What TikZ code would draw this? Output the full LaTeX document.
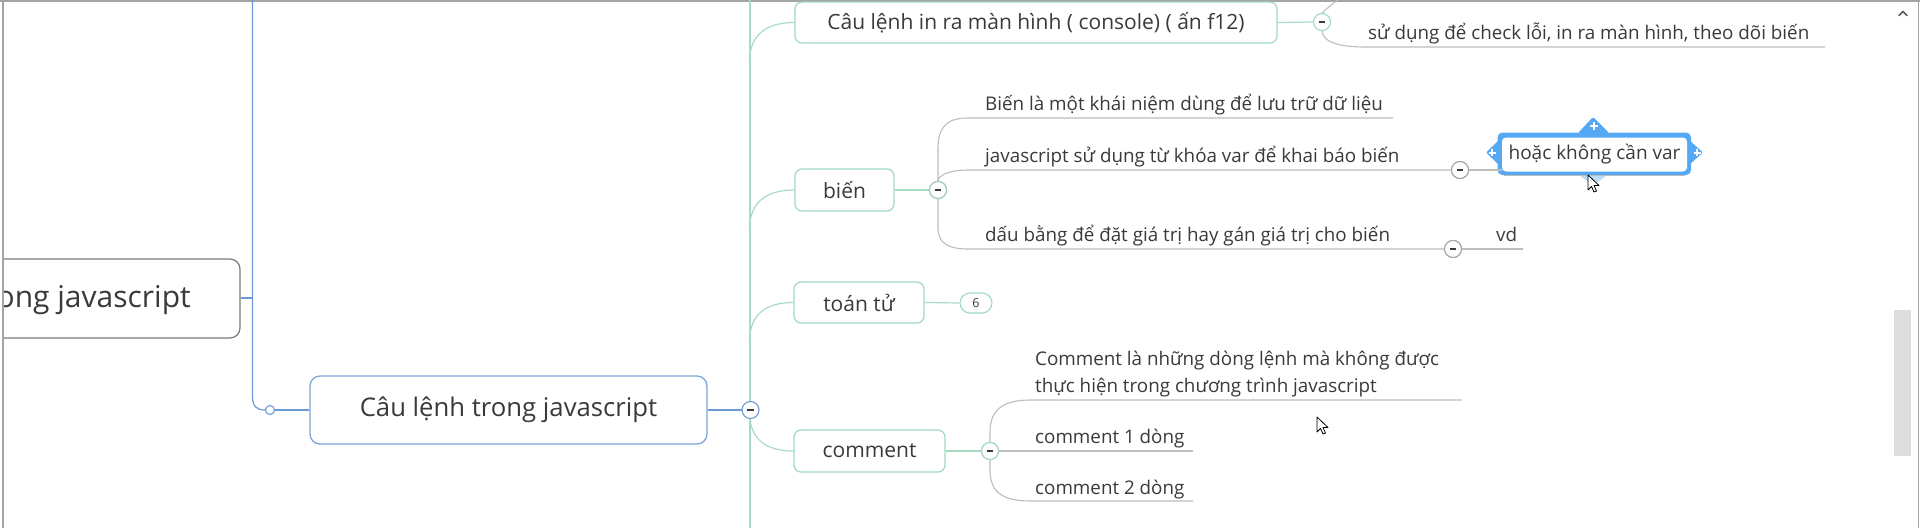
\documentclass[tikz,border=0pt]{standalone}
\usepackage{fontspec}
\setmainfont{Open Sans}
\usetikzlibrary{calc}
\definecolor{txt}{HTML}{3A3A3A}
\definecolor{gbord}{HTML}{9FD9BD}
\definecolor{gln}{HTML}{A6DCC2}
\definecolor{bbord}{HTML}{7AA6DC}
\definecolor{bln}{HTML}{6D9BD6}
\definecolor{grl}{HTML}{BDBDBD}
\definecolor{grc}{HTML}{A8A8A8}
\definecolor{win}{HTML}{A4A4A4}
\definecolor{sel}{HTML}{55A8F4}
\definecolor{selb}{HTML}{BBDDF8}
\tikzset{
  gbox/.style={draw=gbord, line width=1.2pt, rounded corners=7pt, fill=white, text=txt, inner sep=0pt,
    font=\fontsize{21}{25}\selectfont},
  leaf/.style={anchor=base west, inner sep=0pt, text=txt, font=\fontsize{18.8}{27}\selectfont},
  gline/.style={draw=gln, line width=1.2pt},
  grayl/.style={draw=grl, line width=1.1pt},
  bline/.style={draw=bln, line width=1.2pt},
  tog/.style={circle, draw=#1, line width=1.1pt, fill=white, minimum size=17pt, inner sep=0pt,
    path picture={\draw[txt, line width=1.3pt] ([xshift=-3.2pt]path picture bounding box.center) -- ([xshift=3.2pt]path picture bounding box.center);}},
  cursorsh/.style={draw=black, fill=white, line width=0.8pt, line join=round},
}
\begin{document}
\begin{tikzpicture}[x=1pt,y=-1pt]
\useasboundingbox (0,0) rectangle (1920,528);
\fill[white] (0,0) rectangle (1920,528);

% window frame
\draw[win, line width=1.5pt] (0,1) -- (1920,1);
\draw[win, line width=2pt] (3,0) -- (3,528);
\draw[win, line width=1.5pt] (1918.5,0) -- (1918.5,528);
\fill[black!13] (1894,310) rectangle (1911,456);
\draw[black!65, line width=1.6pt, line cap=round, line join=round] (1899,15.5) -- (1903,11.5) -- (1907,15.5);

% root (clipped at the left window edge)
\begin{scope}
\clip (4,0) rectangle (1920,528);
\node[draw=black!52, line width=1.2pt, rounded corners=10pt, minimum width=280pt, minimum height=79pt, fill=white] (root) at (100,298.5) {};
\node[anchor=east, text=txt, inner sep=0pt, font=\fontsize{30}{34}\selectfont] (rt) at (191,300) {ong javascript};
\end{scope}

% blue part
\coordinate (btop) at (252.5,0);
\node[circle, draw=bln, line width=1.1pt, fill=white, minimum size=9pt, inner sep=0pt] (bsm) at (270,410) {};
\draw[bline] (btop) -- (252.5,396) .. controls (252.5,406) and (256,410) .. (bsm.west);
\draw[bline, line width=2pt] (root.east |- 0,298) -- (252.5,298);
\node[draw=bbord, line width=1.3pt, rounded corners=10pt, fill=white, text=txt, minimum width=397pt, minimum height=68pt, inner sep=0pt,
  font=\fontsize{25.7}{30}\selectfont] (M) at (508.5,410) {Câu lệnh trong javascript};
\draw[bline, line width=2pt] (bsm.east) -- (M.west);

% green trunk
\coordinate (gtop) at (750,0);
\coordinate (gbot) at (750,528);
\draw[gline] (gtop) -- (gbot);
\draw[bline] (M.east) -- (742,410);

% green children
\node[gbox, minimum width=482pt, minimum height=41pt] (A) at (1036,22.5) {Câu lệnh in ra màn hình ( console) ( ấn f12)};
\node[gbox, minimum width=99pt, minimum height=42pt] (B) at (844.5,190) {biến};
\node[gbox, minimum width=130pt, minimum height=41pt] (C) at (859,302.5) {toán tử};
\node[gbox, minimum width=151pt, minimum height=42pt] (D) at (869.5,451) {comment};

\draw[gline] ($(A.west)+(-45,40)$) .. controls +(0,-28) and +(-28,0) .. (A.west);
\draw[gline] ($(B.west)+(-45,40)$) .. controls +(0,-28) and +(-28,0) .. (B.west);
\draw[gline] ($(C.west)+(-44,40)$) .. controls +(0,-28) and +(-28,0) .. (C.west);
\draw[gline] ($(D.west)+(-44,-40)$) .. controls +(0,28) and +(-28,0) .. (D.west);

\node[tog=bln] (cM) at (750.5,410) {};

% toggles of the green children
\node[tog=gbord] (cA) at (1322,22) {};
\node[tog=gbord!70!grc] (cB) at (938,190) {};
\node[draw=gbord, line width=1.1pt, rounded corners=10pt, fill=white, minimum width=32pt, minimum height=20pt, inner sep=0pt,
  text=txt, font=\fontsize{12.5}{14}\selectfont] (six) at (976,303) {6};
\node[tog=gbord] (cD) at (990,451) {};
\draw[gline] (A.east) -- (cA.west);
\draw[gline] (B.east) -- (cB.west);
\draw[gline] (C.east) -- (six.west);
\draw[gline] (D.east) -- (cD.west);

% leaves of "Câu lệnh in ra màn hình"
\node[leaf] (LA) at (1368,39) {sử dụng để check lỗi, in ra màn hình, theo dõi biến};
\coordinate (uAs) at (1366,47);
\coordinate (uAe) at (1825,47);
\coordinate (aUp) at (1342,-3);
\draw[grayl] (aUp) .. controls (1326,8) and (1322,14) .. (cA.north);
\draw[grayl] (cA.south) .. controls (1323,42) and (1338,47) .. (uAs) -- (uAe);

% leaves of "biến"
\node[leaf] (L1) at (985,110) {Biến là một khái niệm dùng để lưu trữ dữ liệu};
\node[leaf] (L2) at (985,162) {javascript sử dụng từ khóa var để khai báo biến};
\node[leaf] (L3) at (985,241) {dấu bằng để đặt giá trị hay gán giá trị cho biến};
\coordinate (u1s) at (968,118);
\coordinate (u1e) at (1393,118);
\coordinate (u2s) at (968,170);
\coordinate (u3s) at (968,249);
\node[tog=grc] (cL2) at (1460,170) {};
\node[tog=grc] (cL3) at (1453,249) {};
\draw[grayl] (cB.north) -- (938,148) .. controls (938,126) and (948,118) .. (u1s) -- (u1e);
\draw[grayl] (cB.north) .. controls (938,176) and (948,170) .. (u2s) -- (cL2.west);
\draw[grayl] (cB.south) -- (938,228) .. controls (938,243) and (948,249) .. (u3s) -- (cL3.west);
\node[tog=gbord!70!grc] at (cB) {};
\node[tog=grc] at (cL2) {};
\node[tog=grc] at (cL3) {};

\node[leaf] (vd) at (1496,241) {vd};
\coordinate (uvde) at (1523,249);
\draw[grayl] (cL3.east) -- (uvde);

% selected node "hoặc không cần var"
\fill[sel, rounded corners=5pt] (1497.5,132.5) rectangle (1691,175);
\fill[sel, rounded corners=2pt] (1578,133) -- (1593,117) -- (1609,133) -- cycle;
\fill[sel, rounded corners=2pt] (1499,140) -- (1486,152.5) -- (1499,165) -- cycle;
\fill[sel, rounded corners=2pt] (1689,140) -- (1703,152.5) -- (1689,165) -- cycle;
\fill[selb, rounded corners=2pt] (1579,175) -- (1593,186) -- (1607,175) -- cycle;
\node[fill=white, rounded corners=4pt, minimum width=185pt, minimum height=34pt, inner sep=0pt, text=txt,
  font=\fontsize{19}{22}\selectfont] (H) at (1594.5,154.5) {hoặc không cần var};
\draw[white, line width=2pt] (1590,126) -- (1598,126) (1594,122) -- (1594,130);
\draw[white, line width=2pt] (1488.5,152.5) -- (1496,152.5) (1492.25,148.75) -- (1492.25,156.25);
\draw[white, line width=2pt] (1693.5,152.5) -- (1701,152.5) (1697.25,148.75) -- (1697.25,156.25);
\draw[grayl] ([xshift=2pt,yshift=-3.5pt]H.south west) -- ([xshift=-2pt,yshift=-3.5pt]H.south east);
\draw[grayl] (cL2.east) -- (H.west |- cL2);

% leaves of "comment"
\node[leaf, align=left, anchor=south west] (LC1) at (1035,397.5) {Comment là những dòng lệnh mà không được\\thực hiện trong chương trình javascript};
\node[leaf] (LC2) at (1035,443) {comment 1 dòng};
\node[leaf] (LC3) at (1035,494) {comment 2 dòng};
\coordinate (c1s) at (1031,400);
\coordinate (c1e) at (1462,400);
\coordinate (c2e) at (1193,451);
\coordinate (c3s) at (1031,501);
\coordinate (c3e) at (1193,501);
\draw[grayl] (cD.north) -- (990,432) .. controls (990,408) and (1005,400) .. (c1s) -- (c1e);
\draw[grayl] (cD.east) -- (c2e);
\draw[grayl] (cD.south) -- (990,470) .. controls (990,494) and (1005,501) .. (c3s) -- (c3e);
\node[tog=gbord] at (cD) {};

% mouse pointers
\draw[cursorsh] (1588,175) -- (1588,190) -- (1591.5,186.5) -- (1594,192) -- (1596.5,191) -- (1594,185.5) -- (1599,185.5) -- cycle;
\draw[cursorsh] (1317,417) -- (1317,432) -- (1320.5,428.5) -- (1323,434) -- (1325.5,433) -- (1323,427.5) -- (1328,427.5) -- cycle;
\end{tikzpicture}
\end{document}
